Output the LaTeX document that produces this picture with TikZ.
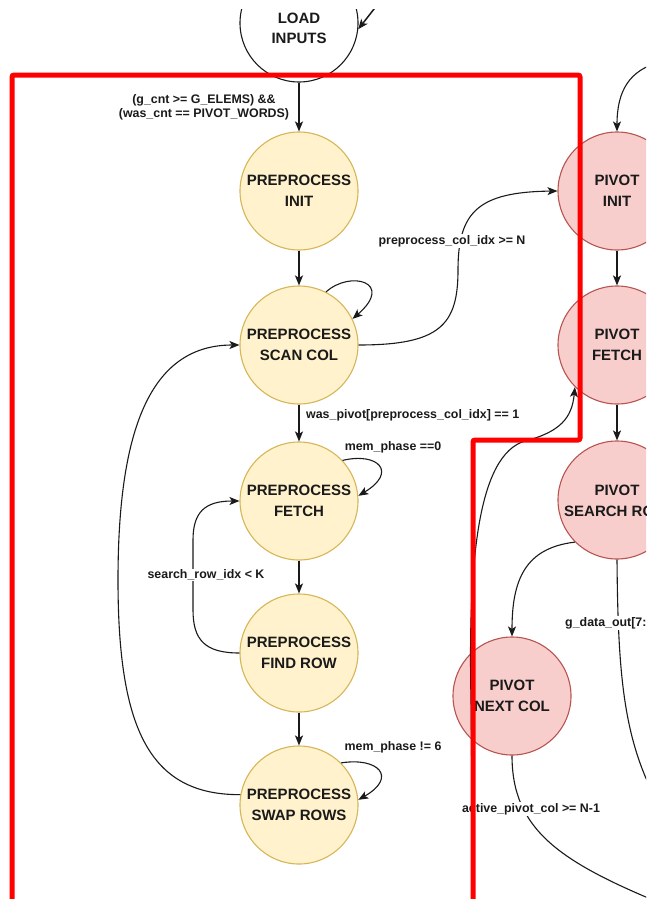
\documentclass[tikz,border=0pt]{standalone}
\usepackage{fontspec}
\setmainfont{Liberation Sans}
\usetikzlibrary{arrows.meta}
\definecolor{ink}{HTML}{1A1A1A}
\definecolor{prepfill}{HTML}{FFF2CC}
\definecolor{prepline}{HTML}{D6B656}
\definecolor{pivfill}{HTML}{F8CECC}
\definecolor{pivline}{HTML}{B85450}
\definecolor{zonered}{HTML}{FF0000}
\begin{document}
\begin{tikzpicture}[x=1pt,y=-1pt,
  statetext/.style={text=ink, align=center, inner sep=0pt,
    font=\bfseries\fontsize{15}{20.5}\selectfont},
  state/.style={statetext, circle, minimum size=118pt, line width=1.1pt},
  prep/.style={state, draw=prepline, fill=prepfill},
  piv/.style={state, draw=pivline, fill=pivfill},
  arrowed/.style={-{Stealth[length=10pt,width=8pt,inset=2.5pt]}},
  trans/.style={arrowed, draw=ink, line width=1.1pt},
  straight/.style={arrowed, draw=ink, line width=1.8pt},
  wire/.style={draw=ink, line width=1.1pt},
  cond/.style={text=ink, inner sep=1pt, font=\bfseries\fontsize{12.4}{14}\selectfont},
  condbg/.style={cond, fill=white},
  zone/.style={draw=zonered, line width=5pt, rounded corners=2pt}
]
\useasboundingbox (0,0) rectangle (646,899);
\begin{scope}
\clip (0,10) rectangle (646,899);

% --- states ---
\node[state, draw=ink, fill=white] (load) at (299,23) {};
\node[statetext] (loadtxt) at (299,28.5) {LOAD\\INPUTS};

\node[prep] (ppi) at (299,191) {PREPROCESS\\INIT};
\node[prep] (psc) at (299,345) {PREPROCESS\\SCAN COL};
\node[prep] (pfe) at (299,501) {PREPROCESS\\FETCH};
\node[prep] (pfr) at (299,653) {PREPROCESS\\FIND ROW};
\node[prep] (psw) at (299,805) {PREPROCESS\\SWAP ROWS};

\node[piv] (vin) at (617,191) {PIVOT\\INIT};
\node[piv] (vfe) at (617,345) {PIVOT\\FETCH};
\node[piv] (vse) at (617,500) {};
\node[statetext] (vsetop) at (617,490) {PIVOT};
\node[statetext, anchor=west] (vsebot) at (564,511) {SEARCH RO};
\node[piv] (vnc) at (512,696) {PIVOT\\NEXT COL};

% --- entry into LOAD INPUTS ---
\coordinate (loadsrc) at (385,-5);
\draw[arrowed, draw=ink, line width=1.5pt] (loadsrc) -- (load.-6);

% --- preprocess chain ---
\draw[straight] (load.south) -- (ppi.north);
\node[cond, align=center] (lblload) at (204,107)
  {(g\_cnt >= G\_ELEMS) \&\&\\(was\_cnt == PIVOT\_WORDS)};
\draw[straight] (ppi.south) -- (psc.north);
\draw[trans] (psc.63) .. controls (350,270) and (395,282) .. (psc.26);
\draw[straight] (psc.south) -- (pfe.north);
\node[cond, anchor=west] (lblpivot) at (305,415) {was\_pivot[preprocess\_col\_idx] == 1};
\draw[trans] (pfe.43) .. controls (378,452) and (398,472) .. (pfe.5);
\node[cond] (lblfetch) at (393,447) {mem\_phase ==0};
\draw[straight] (pfe.south) -- (pfr.north);
\draw[straight] (pfr.south) -- (psw.north);
\draw[trans] (psw.45) .. controls (378,757) and (398,777) .. (psw.5);
\node[cond] (lblswap) at (393,747) {mem\_phase != 6};

% --- loops back ---
\draw[trans] (pfr.west) .. controls (205,653) and (193,640) .. (193,610)
  -- (193,540) .. controls (193,512) and (205,501) .. (pfe.west);
\node[condbg] (lblsearch) at (206,575) {search\_row\_idx < K};
\draw[trans] (psw.170) .. controls (150,795) and (118,730) .. (118,580)
  .. controls (118,430) and (150,345) .. (psc.west);

% --- preprocess done ---
\draw[trans] (psc.east) .. controls (440,345) and (458,325) .. (458,270)
  .. controls (458,212) and (478,192) .. (vin.west);
\node[condbg] (lbldone) at (452,241) {preprocess\_col\_idx >= N};

% --- pivot chain ---
\coordinate (vinsrc) at (660,62);
\draw[trans] (vinsrc) .. controls (630,70) and (617,90) .. (vin.north);
\draw[straight] (vin.south) -- (vfe.north);
\draw[straight] (vfe.south) -- (vse.north);
\draw[trans] (vse.225) .. controls (525,548) and (512,580) .. (vnc.north);

\coordinate (vseout) at (662,810);
\draw[wire] (vse.south) .. controls (618,680) and (624,745) .. (vseout);
\node[condbg, anchor=west] (lbldata) at (564,623) {g\_data\_out[7:};

\coordinate (vncout) at (665,905);
\draw[wire] (vnc.south) .. controls (512,830) and (560,862) .. (vncout);
\node[condbg] (lbllast) at (531,809) {active\_pivot\_col >= N-1};

\coordinate (vfesrc) at (473,905);
\draw[trans] (vfesrc) -- (471,700) .. controls (468,560) and (478,455) .. (525,441)
  .. controls (560,432) and (572,418) .. (vfe.225);

% --- preprocess zone outline ---
\draw[zone] (12,905) -- (12,75) -- (580,75) -- (580,440) -- (473,440) -- (473,905);
\end{scope}
\end{tikzpicture}
\end{document}
